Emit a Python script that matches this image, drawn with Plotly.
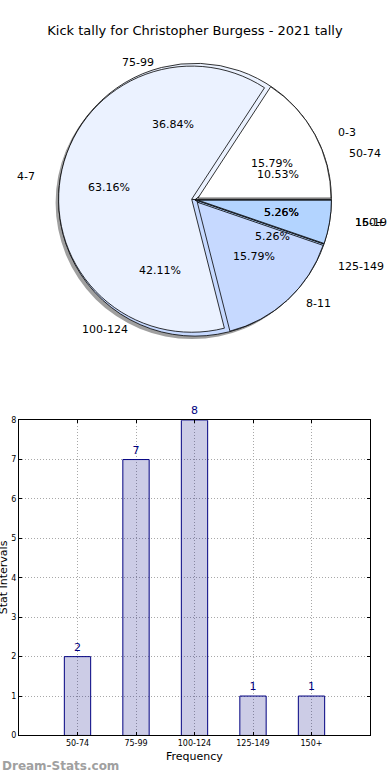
import math
import plotly.graph_objects as go

# ---------------- data ----------------
title_text = "Kick tally for Christopher Burgess - 2021 tally"

pie_a_labels = ["0-3", "4-7", "8-11", "16-19"]
pie_a_values = [3, 12, 3, 1]
pie_a_colors = ["#ffffff", "#ebf2ff", "#c6d9ff", "#b3d4ff"]

pie_b_labels = ["50-74", "75-99", "100-124", "125-149", "150+"]
pie_b_values = [2, 7, 8, 1, 1]
pie_b_colors = ["#ffffff", "#ebf2ff", "#c6d9ff", "#b3d4ff", "#b3d4ff"]

bar_categories = ["50-74", "75-99", "100-124", "125-149", "150+"]
bar_values = [2, 7, 8, 1, 1]
y_ticks = [0, 1, 2, 3, 4, 5, 6, 7, 8]

W, H = 390, 780
FONT = "DejaVu Sans"

# pie geometry (pixels)
cx, cy = 195, 198
R = 138
rx_txt, ry_txt = 146, 130


def px_dom_x(a, b):
    return [a / W, b / W]


def px_dom_y(top, bottom):
    return [(H - bottom) / H, (H - top) / H]


def ccw_rotation(values):
    # plotly (counterclockwise) puts the first slice clockwise of the rotation line;
    # shift so the first slice starts at 3 o'clock and runs counter-clockwise
    return 90 - 360.0 * values[0] / sum(values)


fig = go.Figure()

# shadow
fig.add_trace(go.Pie(
    values=[sum(pie_b_values)], labels=["shadow"], sort=False,
    marker=dict(colors=["rgba(80,80,80,0.55)"], line=dict(width=0)),
    textinfo="none", hoverinfo="skip", showlegend=False,
    domain=dict(x=px_dom_x(cx - R - 3, cx + R - 3), y=px_dom_y(cy - R + 3, cy + R + 3)),
))

# pie B (underneath)
fig.add_trace(go.Pie(
    values=pie_b_values, labels=pie_b_labels, sort=False,
    direction="counterclockwise", rotation=ccw_rotation(pie_b_values),
    marker=dict(colors=pie_b_colors, line=dict(color="black", width=0.8)),
    textinfo="none", hoverinfo="label+percent", showlegend=False,
    domain=dict(x=px_dom_x(cx - R, cx + R), y=px_dom_y(cy - R, cy + R)),
))

# pie A (on top, slightly exploded)
fig.add_trace(go.Pie(
    values=pie_a_values, labels=pie_a_labels, sort=False,
    direction="counterclockwise", rotation=ccw_rotation(pie_a_values),
    pull=[0.025] * len(pie_a_values),
    marker=dict(colors=pie_a_colors, line=dict(color="black", width=0.8)),
    textinfo="none", hoverinfo="label+percent", showlegend=False,
    domain=dict(x=px_dom_x(cx - R, cx + R), y=px_dom_y(cy - R, cy + R)),
))

annotations = []


def add_pie_text(labels, values):
    total = sum(values)
    start = 0.0
    for lab, v in zip(labels, values):
        frac = v / total
        mid = math.radians(360 * (start + frac / 2))
        start += frac
        c, s = math.cos(mid), math.sin(mid)
        # label at 1.1 radius
        lx = cx + 1.1 * rx_txt * c
        ly = cy - 1.1 * ry_txt * s
        annotations.append(dict(
            x=lx / W, y=(H - ly) / H, xref="paper", yref="paper",
            text=lab, showarrow=False,
            xanchor="left" if c > 0 else "right", yanchor="middle",
            font=dict(family=FONT, size=11, color="black"),
        ))
        # percentage at 0.6 radius
        px = cx + 0.6 * rx_txt * c
        py = cy - 0.6 * ry_txt * s
        annotations.append(dict(
            x=px / W, y=(H - py) / H, xref="paper", yref="paper",
            text="%.2f%%" % (100 * frac), showarrow=False,
            xanchor="center", yanchor="middle",
            font=dict(family=FONT, size=11, color="black"),
        ))


add_pie_text(pie_a_labels, pie_a_values)
add_pie_text(pie_b_labels, pie_b_values)

# ---------------- bar chart ----------------
x_pos = list(range(1, len(bar_categories) + 1))
fig.add_trace(go.Bar(
    x=x_pos, y=bar_values, width=0.45,
    marker=dict(color="rgba(0,0,128,0.2)", line=dict(color="#000080", width=1)),
    text=[str(v) for v in bar_values], textposition="outside",
    textfont=dict(family=FONT, size=11, color="#000080"),
    cliponaxis=False, showlegend=False,
    xaxis="x", yaxis="y",
))

ax_left, ax_right, ax_top, ax_bottom = 19, 370, 421, 740
grid_style = dict(showgrid=True, gridcolor="#a8a8a8", griddash="1px,2px", gridwidth=1)

fig.update_layout(
    width=W, height=H,
    margin=dict(l=0, r=0, t=0, b=0),
    paper_bgcolor="white", plot_bgcolor="white",
    font=dict(family=FONT, color="black"),
    title=dict(text=title_text, x=0.5, xanchor="center", y=1 - 30 / H, yanchor="middle",
               font=dict(family=FONT, size=13, color="black")),
    xaxis=dict(
        domain=[ax_left / W, ax_right / W], anchor="y",
        range=[0, len(bar_categories) + 1],
        tickmode="array", tickvals=x_pos, ticktext=bar_categories,
        tickfont=dict(family=FONT, size=8, color="black"),
        showline=True, linecolor="black", linewidth=1, mirror="ticks",
        ticks="inside", ticklen=3, tickcolor="black",
        zeroline=False, fixedrange=True, **grid_style,
    ),
    yaxis=dict(
        domain=[(H - ax_bottom) / H, (H - ax_top) / H], anchor="x",
        range=[0, 8],
        tickmode="array", tickvals=y_ticks,
        tickfont=dict(family=FONT, size=8, color="black"),
        showline=True, linecolor="black", linewidth=1, mirror="ticks",
        ticks="inside", ticklen=3, tickcolor="black",
        zeroline=False, fixedrange=True, **grid_style,
    ),
)

annotations.append(dict(
    x=(ax_left + ax_right) / 2 / W, y=(H - 761) / H, xref="paper", yref="paper",
    text="Frequency", showarrow=False, xanchor="center", yanchor="middle",
    font=dict(family=FONT, size=11, color="black"),
))
annotations.append(dict(
    x=3 / W, y=(H - 580) / H, xref="paper", yref="paper",
    text="Stat Intervals", showarrow=False, textangle=-90,
    xanchor="center", yanchor="middle",
    font=dict(family=FONT, size=11, color="black"),
))
annotations.append(dict(
    x=0, y=(H - 771) / H, xref="paper", yref="paper",
    text="<b>Dream-Stats.com</b>", showarrow=False, xanchor="left", yanchor="middle",
    font=dict(family=FONT, size=12, color="#a0a0a0"),
))

fig.update_layout(annotations=annotations)

fig.write_html(
    "out.html",
    config={"displayModeBar": False, "responsive": False},
    post_script=(
        "document.documentElement.style.margin='0';"
        "document.documentElement.style.padding='0';"
        "document.documentElement.style.overflow='hidden';"
        "document.body.style.margin='0';"
        "document.body.style.padding='0';"
        "document.body.style.overflow='hidden';"
    ),
)
